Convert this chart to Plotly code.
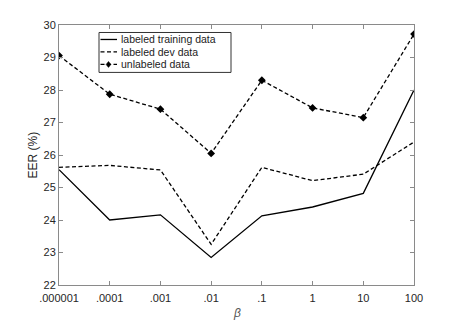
import plotly.graph_objects as go

# ---- data ----
beta_labels = [".000001", ".0001", ".001", ".01", ".1", "1", "10", "100"]
labeled_train = [25.55, 24.0, 24.16, 22.85, 24.13, 24.40, 24.82, 28.0]
labeled_dev = [25.62, 25.68, 25.54, 23.25, 25.62, 25.21, 25.41, 26.40]
unlabeled = [29.06, 27.87, 27.41, 26.05, 28.30, 27.45, 27.15, 29.72]
y_ticks = [22, 23, 24, 25, 26, 27, 28, 29, 30]

# page body has an 8px default margin, so the figure is shrunk by that much
OFF = 8
W, H = 457 - OFF, 321 - OFF
ML, MR, MT, MB = 59 - OFF, 43, 24.5 - OFF, 36
FONT = "Liberation Sans, Arial, sans-serif"
DASH = "4px,2.5px"

xs = list(range(len(beta_labels)))

fig = go.Figure()
fig.add_trace(go.Scatter(x=xs, y=labeled_train, mode="lines",
                         line=dict(color="black", width=1.3), name="labeled training data"))
fig.add_trace(go.Scatter(x=xs, y=labeled_dev, mode="lines",
                         line=dict(color="black", width=1.3, dash=DASH), name="labeled dev data"))
fig.add_trace(go.Scatter(x=xs, y=unlabeled, mode="lines+markers",
                         line=dict(color="black", width=1.3, dash=DASH),
                         marker=dict(symbol="diamond", size=6, color="black"),
                         name="unlabeled data"))

# ---- manual MATLAB-style legend (screen pixel -> paper) ----
pw, ph = W - ML - MR, H - MT - MB
px = lambda v: (v - OFF - ML) / pw
py = lambda v: 1 - (v - OFF - MT) / ph

fig.add_shape(type="rect", xref="paper", yref="paper",
              x0=px(99), x1=px(231), y0=py(72), y1=py(32),
              line=dict(color="#333333", width=1), fillcolor="white", layer="above")
rows = [("labeled training data", "solid", False, 39),
        ("labeled dev data", DASH, False, 51.5),
        ("unlabeled data", DASH, True, 64)]
for text, dash, mk, yy in rows:
    fig.add_shape(type="line", xref="paper", yref="paper",
                  x0=px(100.5), x1=px(117), y0=py(yy), y1=py(yy),
                  line=dict(color="black", width=1.3, dash=dash), layer="above")
    if mk:
        cx, cy, r = 108.5, yy, 3
        fig.add_shape(type="path", xref="paper", yref="paper",
                      path=f"M {px(cx)} {py(cy - r)} L {px(cx + r * 0.8)} {py(cy)} "
                           f"L {px(cx)} {py(cy + r)} L {px(cx - r * 0.8)} {py(cy)} Z",
                      fillcolor="black", line=dict(color="black", width=0.5), layer="above")
    fig.add_annotation(xref="paper", yref="paper", x=px(118.5), y=py(yy),
                       text=text, showarrow=False, xanchor="left", yanchor="middle",
                       font=dict(family=FONT, size=10.5, color="#222222"))

# axis titles placed as annotations for exact position
fig.add_annotation(xref="paper", yref="paper", x=px(32.5), y=0.5, text="EER (%)",
                   textangle=-90, showarrow=False, xanchor="center", yanchor="middle",
                   font=dict(family=FONT, size=12, color="#262626"))
fig.add_annotation(xref="paper", yref="paper", x=0.5, y=py(313.5), text="<i>β</i>",
                   showarrow=False, xanchor="center", yanchor="middle",
                   font=dict(family=FONT, size=12, color="#555555"))

axis_common = dict(showline=True, mirror="ticks", linecolor="#8a8a8a", linewidth=1,
                   ticks="inside", ticklen=4, tickcolor="#8a8a8a", showgrid=False,
                   zeroline=False, tickfont=dict(family=FONT, size=11, color="#262626"))

fig.update_layout(
    width=W, height=H, showlegend=False,
    plot_bgcolor="white", paper_bgcolor="white",
    margin=dict(l=ML, r=MR, t=MT, b=MB, autoexpand=False),
    xaxis=dict(range=[0, len(beta_labels) - 1], tickvals=xs, ticktext=beta_labels,
               ticklabelstandoff=3, **axis_common),
    yaxis=dict(range=[22, 30], tickvals=y_ticks, **axis_common),
)

fig.write_html("out.html")
